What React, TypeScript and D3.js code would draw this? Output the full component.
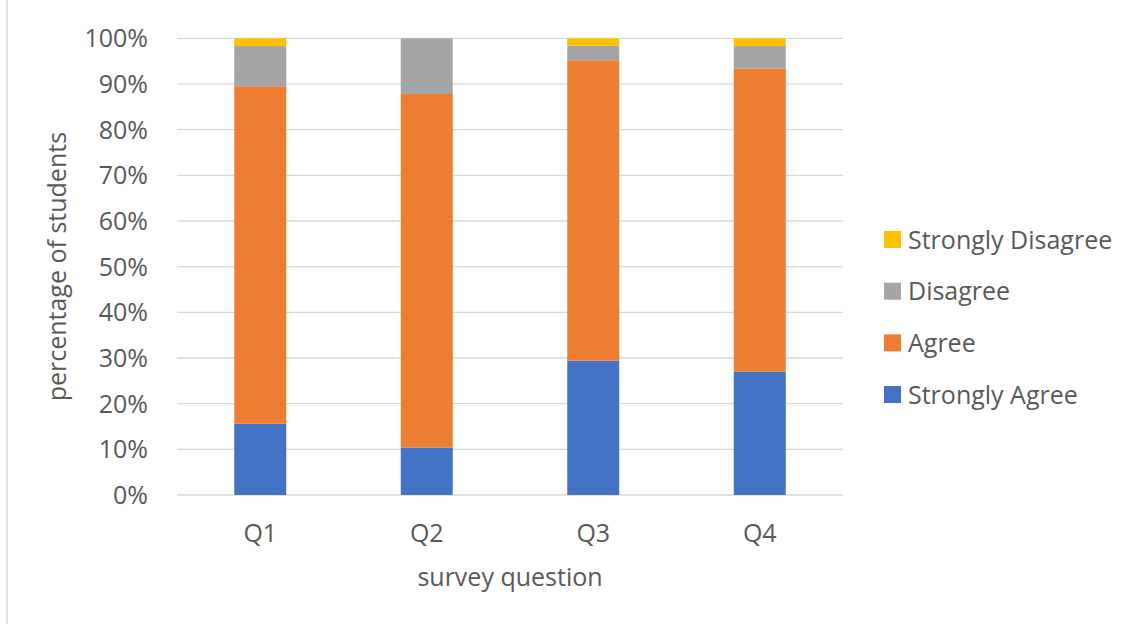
import React from "react";
import * as d3 from "d3";

// Share of students per response, per survey question (percent)
const questions = ["Q1", "Q2", "Q3", "Q4"];
const stronglyAgree = [15.6, 10.4, 29.4, 27.0];
const agree = [73.9, 77.4, 65.8, 66.4];
const disagree = [8.8, 12.2, 3.2, 4.9];
const stronglyDisagree = [1.7, 0, 1.6, 1.7];

const seriesNames = ["Strongly Agree", "Agree", "Disagree", "Strongly Disagree"];
const seriesColors = ["#4472C4", "#ED7D31", "#A5A5A5", "#FFC000"];
const yTicks = [0, 10, 20, 30, 40, 50, 60, 70, 80, 90, 100];

const W = 1133;
const H = 624;
const FONT = "'Open Sans', 'Noto Sans', sans-serif";
const TEXT = "#595959";

export default function App() {
  const plot = { left: 177, right: 843, top: 38.3, bottom: 495 };

  const x = d3
    .scaleBand<string>()
    .domain(questions)
    .range([plot.left, plot.right])
    .paddingInner(0.6877)
    .paddingOuter(0.6877 / 2);

  const y = d3.scaleLinear().domain([0, 100]).range([plot.bottom, plot.top]);

  const rows = questions.map((q, i) => ({
    q,
    "Strongly Agree": stronglyAgree[i],
    Agree: agree[i],
    Disagree: disagree[i],
    "Strongly Disagree": stronglyDisagree[i],
  }));

  const stacked = d3.stack<any>().keys(seriesNames)(rows);

  const legendOrder = [3, 2, 1, 0];
  const legendY = d3.scalePoint<number>().domain(legendOrder).range([239.5, 394.5]);

  return (
    <svg
      width={W}
      height={H}
      style={{ position: "absolute", left: 0, top: 0, display: "block", background: "#fff" }}
      fontFamily={FONT}
    >
      <rect x={0} y={0} width={W} height={H} fill="#fff" />
      {/* chart frame edge */}
      <line x1={7} x2={7} y1={0} y2={H} stroke="#d9d9d9" strokeWidth={1.5} />

      {/* gridlines */}
      {yTicks.map((t) => (
        <line
          key={t}
          x1={plot.left}
          x2={plot.right}
          y1={y(t)}
          y2={y(t)}
          stroke="#d9d9d9"
          strokeWidth={1.3}
        />
      ))}

      {/* stacked bars */}
      {stacked.map((layer, si) => (
        <g key={layer.key} fill={seriesColors[si]}>
          {layer.map((d, i) =>
            d[1] - d[0] > 0 ? (
              <rect
                key={i}
                x={x(questions[i])}
                width={x.bandwidth()}
                y={y(d[1])}
                height={y(d[0]) - y(d[1])}
              />
            ) : null
          )}
        </g>
      ))}

      {/* y tick labels */}
      {yTicks.map((t) => (
        <text
          key={t}
          x={148}
          y={y(t) + 9}
          textAnchor="end"
          fontSize={25}
          fill={TEXT}
        >
          {t}%
        </text>
      ))}

      {/* x tick labels */}
      {questions.map((q) => (
        <text
          key={q}
          x={(x(q) as number) + x.bandwidth() / 2}
          y={542}
          textAnchor="middle"
          fontSize={25}
          fill={TEXT}
        >
          {q}
        </text>
      ))}

      {/* axis titles */}
      <text x={(plot.left + plot.right) / 2} y={586} textAnchor="middle" fontSize={25} fill={TEXT}>
        survey question
      </text>
      <text
        transform={`translate(66, ${(plot.top + plot.bottom) / 2}) rotate(-90)`}
        textAnchor="middle"
        fontSize={25}
        fill={TEXT}
      >
        percentage of students
      </text>

      {/* legend */}
      {legendOrder.map((si) => (
        <g key={si} transform={`translate(884, ${legendY(si)})`}>
          <rect x={0} y={-8.5} width={17} height={17} fill={seriesColors[si]} />
          <text x={24} y={9} fontSize={25} fill={TEXT}>
            {seriesNames[si]}
          </text>
        </g>
      ))}
    </svg>
  );
}
